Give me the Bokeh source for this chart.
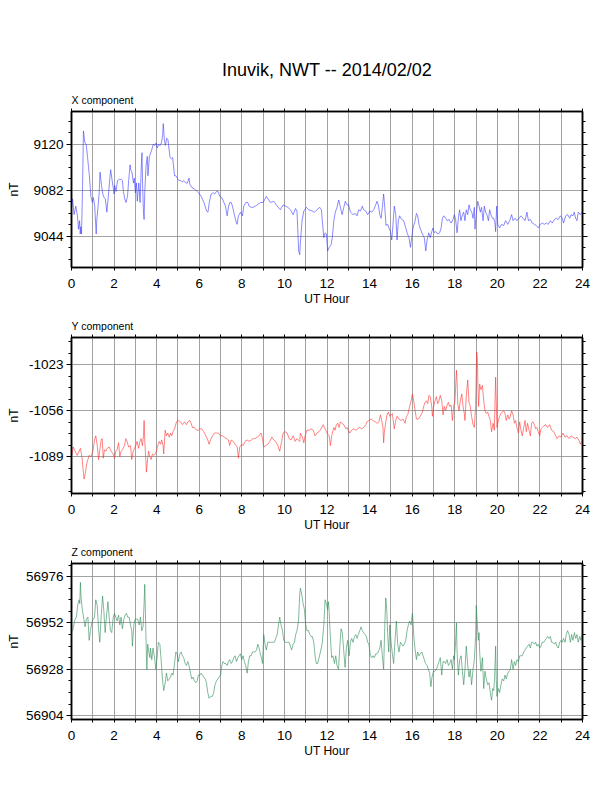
from bokeh.plotting import figure
from bokeh.models import (Range1d, LinearAxis, FixedTicker, Title, CustomJSTickFormatter, Grid,
                          NumeralTickFormatter)
from bokeh.layouts import column
from bokeh.embed import file_html
from bokeh.resources import INLINE

PAGE_TITLE = "Inuvik, NWT -- 2014/02/02"
X_LABEL = "UT Hour"
Y_LABEL = "nT"
HOUR_LABELS = [0, 2, 4, 6, 8, 10, 12, 14, 16, 18, 20, 22, 24]
HOUR_MINOR = [1, 3, 5, 7, 9, 11, 13, 15, 17, 19, 21, 23]
COMPONENTS = ["X component", "Y component", "Z component"]

# ---------------- X component ----------------
X_HOURS = [
    0.00, 0.05, 0.12, 0.20, 0.28, 0.33, 0.38, 0.41, 0.44, 0.47, 0.50, 0.52, 0.56, 0.63, 0.69, 0.75,
    0.80, 0.84, 0.91, 0.98, 1.03, 1.09, 1.16, 1.19, 1.25, 1.30, 1.34, 1.41, 1.47, 1.53, 1.59, 1.66,
    1.72, 1.78, 1.84, 1.91, 1.97, 2.00, 2.03, 2.09, 2.16, 2.25, 2.34, 2.39, 2.44, 2.50, 2.56, 2.63,
    2.69, 2.75, 2.78, 2.84, 2.91, 2.95, 3.00, 3.05, 3.09, 3.16, 3.22, 3.28, 3.31, 3.34, 3.38, 3.41,
    3.44, 3.50, 3.56, 3.59, 3.66, 3.72, 3.78, 3.84, 3.91, 3.97, 4.03, 4.09, 4.16, 4.22, 4.28, 4.31,
    4.36, 4.41, 4.47, 4.53, 4.58, 4.63, 4.69, 4.75, 4.81, 4.84, 4.91, 4.97, 5.05, 5.13, 5.20, 5.28,
    5.38, 5.44, 5.52, 5.56, 5.67, 5.78, 5.91, 5.97, 6.09, 6.22, 6.34, 6.41, 6.47, 6.56, 6.66, 6.72,
    6.81, 6.88, 6.97, 7.06, 7.16, 7.23, 7.31, 7.38, 7.44, 7.50, 7.56, 7.66, 7.75, 7.78, 7.84, 7.94,
    8.03, 8.09, 8.19, 8.28, 8.34, 8.44, 8.53, 8.63, 8.72, 8.88, 9.00, 9.15, 9.34, 9.50, 9.66, 9.81,
    9.94, 10.05, 10.16, 10.28, 10.41, 10.52, 10.59, 10.67, 10.72, 10.75, 10.83, 10.91, 11.03, 11.14,
    11.30, 11.41, 11.53, 11.66, 11.74, 11.78, 11.85, 11.91, 11.97, 12.03, 12.10, 12.19, 12.25, 12.32,
    12.39, 12.47, 12.55, 12.63, 12.71, 12.79, 12.86, 12.94, 13.02, 13.10, 13.22, 13.33, 13.41, 13.49,
    13.57, 13.66, 13.72, 13.82, 13.91, 14.01, 14.10, 14.19, 14.29, 14.35, 14.41, 14.48, 14.54, 14.60,
    14.66, 14.71, 14.77, 14.85, 14.91, 14.98, 15.04, 15.10, 15.16, 15.23, 15.29, 15.35, 15.41, 15.51,
    15.60, 15.70, 15.76, 15.85, 15.92, 15.98, 16.04, 16.14, 16.20, 16.26, 16.32, 16.39, 16.48, 16.57,
    16.64, 16.70, 16.78, 16.85, 16.92, 16.98, 17.04, 17.11, 17.20, 17.29, 17.36, 17.42, 17.48, 17.57,
    17.64, 17.73, 17.83, 17.92, 17.98, 18.04, 18.11, 18.17, 18.23, 18.29, 18.36, 18.42, 18.48, 18.54,
    18.61, 18.67, 18.73, 18.80, 18.86, 18.92, 18.95, 19.01, 19.08, 19.14, 19.20, 19.26, 19.33, 19.39,
    19.45, 19.51, 19.58, 19.64, 19.70, 19.77, 19.83, 19.89, 19.92, 19.97, 20.02, 20.11, 20.20, 20.30,
    20.39, 20.49, 20.58, 20.67, 20.74, 20.83, 20.92, 21.02, 21.11, 21.21, 21.30, 21.39, 21.46, 21.55,
    21.64, 21.74, 21.83, 21.93, 22.02, 22.11, 22.21, 22.30, 22.39, 22.49, 22.58, 22.68, 22.77, 22.86,
    22.96, 23.05, 23.11, 23.21, 23.30, 23.40, 23.46, 23.55, 23.61, 23.68, 23.74, 23.80, 23.90, 23.97,
]
X_NT = [
    9068, 9075, 9062, 9069, 9061, 9050, 9057, 9046, 9052, 9046, 9069, 9086, 9131, 9121, 9120, 9110,
    9101, 9094, 9077, 9072, 9076, 9069, 9046, 9058, 9069, 9080, 9097, 9086, 9079, 9076, 9075, 9064,
    9075, 9088, 9099, 9090, 9083, 9079, 9086, 9081, 9090, 9091, 9091, 9090, 9081, 9075, 9072, 9077,
    9091, 9103, 9099, 9097, 9088, 9092, 9080, 9088, 9073, 9088, 9072, 9103, 9113, 9086, 9064, 9058,
    9080, 9102, 9110, 9094, 9110, 9113, 9116, 9120, 9119, 9121, 9117, 9120, 9119, 9121, 9127, 9137,
    9124, 9119, 9125, 9124, 9116, 9109, 9108, 9109, 9099, 9094, 9094, 9092, 9090, 9090, 9089, 9090,
    9088, 9088, 9092, 9087, 9084, 9083, 9081, 9080, 9077, 9072, 9065, 9064, 9072, 9079, 9080, 9079,
    9081, 9081, 9077, 9076, 9072, 9069, 9061, 9069, 9072, 9072, 9069, 9061, 9055, 9054, 9061, 9064,
    9061, 9069, 9072, 9072, 9069, 9068, 9068, 9069, 9070, 9072, 9072, 9077, 9072, 9073, 9069, 9066,
    9070, 9069, 9068, 9066, 9062, 9067, 9065, 9032, 9029, 9039, 9057, 9065, 9068, 9066,
    9065, 9064, 9066, 9068, 9066, 9057, 9043, 9047, 9046, 9032, 9035, 9037, 9043, 9057,
    9064, 9068, 9074, 9068, 9062, 9068, 9073, 9070, 9070, 9064, 9062, 9063, 9061, 9066,
    9065, 9069, 9066, 9065, 9062, 9065, 9064, 9066, 9070, 9073, 9070, 9062, 9059, 9068,
    9079, 9069, 9053, 9054, 9051, 9048, 9041, 9054, 9069, 9062, 9041, 9057, 9061, 9058,
    9057, 9051, 9047, 9043, 9035, 9043, 9051, 9057, 9063, 9061, 9054, 9050, 9046, 9043,
    9032, 9041, 9047, 9043, 9048, 9051, 9047, 9048, 9046, 9047, 9051, 9059, 9061, 9059,
    9057, 9058, 9055, 9058, 9062, 9058, 9047, 9059, 9066, 9057, 9062, 9064, 9057, 9066,
    9062, 9070, 9066, 9064, 9059, 9068, 9050, 9062, 9073, 9069, 9064, 9068, 9057, 9069,
    9064, 9062, 9057, 9066, 9062, 9059, 9059, 9055, 9048, 9069, 9054, 9051, 9054, 9053,
    9057, 9054, 9057, 9062, 9057, 9059, 9057, 9059, 9061, 9059, 9057, 9064, 9057, 9058,
    9055, 9054, 9053, 9051, 9054, 9055, 9054, 9055, 9054, 9057, 9055, 9058, 9059, 9058,
    9061, 9059, 9055, 9061, 9062, 9059, 9062, 9061, 9064, 9059, 9057, 9064, 9062, 9064,
]
X_TICKS = [9044, 9082, 9120]
X_LIMITS = [9018.4, 9147.0]

# ---------------- Y component ----------------
Y_HOURS = [
    0.00, 0.08, 0.17, 0.27, 0.36, 0.42, 0.49, 0.55, 0.59, 0.66, 0.70, 0.77, 0.83, 0.92, 1.02, 1.08,
    1.14, 1.21, 1.27, 1.33, 1.39, 1.44, 1.49, 1.55, 1.61, 1.67, 1.77, 1.86, 1.96, 2.02, 2.08, 2.14,
    2.21, 2.27, 2.33, 2.39, 2.49, 2.55, 2.61, 2.68, 2.77, 2.83, 2.90, 2.96, 3.02, 3.08, 3.15, 3.21,
    3.27, 3.33, 3.38, 3.41, 3.44, 3.49, 3.52, 3.57, 3.62, 3.68, 3.74, 3.80, 3.87, 3.93, 3.99, 4.05,
    4.12, 4.18, 4.24, 4.30, 4.33, 4.40, 4.46, 4.52, 4.59, 4.65, 4.71, 4.77, 4.84, 4.93, 5.02, 5.12,
    5.21, 5.31, 5.40, 5.46, 5.56, 5.62, 5.68, 5.77, 5.87, 5.96, 6.03, 6.12, 6.21, 6.31, 6.40, 6.46,
    6.53, 6.62, 6.71, 6.81, 6.90, 7.00, 7.09, 7.18, 7.28, 7.37, 7.43, 7.50, 7.59, 7.68, 7.78, 7.84,
    7.90, 8.00, 8.06, 8.15, 8.25, 8.34, 8.44, 8.53, 8.62, 8.72, 8.81, 8.90, 8.97, 9.03, 9.12, 9.22,
    9.31, 9.41, 9.50, 9.59, 9.69, 9.78, 9.87, 9.94, 10.03, 10.13, 10.22, 10.31, 10.41, 10.50, 10.59,
    10.72, 10.75, 10.85, 10.91, 10.97, 11.06, 11.16, 11.25, 11.35, 11.44, 11.53, 11.63, 11.72, 11.82,
    11.88, 11.94, 12.00, 12.10, 12.16, 12.22, 12.32, 12.38, 12.44, 12.50, 12.57, 12.63, 12.69, 12.79,
    12.88, 12.94, 13.00, 13.07, 13.16, 13.26, 13.35, 13.44, 13.54, 13.63, 13.72, 13.82, 13.88, 13.97,
    14.07, 14.16, 14.26, 14.35, 14.44, 14.51, 14.57, 14.63, 14.66, 14.69, 14.76, 14.82, 14.88, 14.95,
    15.01, 15.07, 15.16, 15.23, 15.29, 15.38, 15.48, 15.57, 15.67, 15.73, 15.79, 15.88, 15.95, 16.01,
    16.07, 16.13, 16.20, 16.29, 16.38, 16.48, 16.54, 16.60, 16.67, 16.73, 16.79, 16.85, 16.92, 16.95,
    17.01, 17.07, 17.14, 17.20, 17.26, 17.32, 17.39, 17.45, 17.51, 17.57, 17.64, 17.70, 17.76, 17.83,
    17.89, 17.95, 18.01, 18.08, 18.11, 18.14, 18.20, 18.26, 18.33, 18.39, 18.45, 18.48, 18.54, 18.61,
    18.67, 18.73, 18.79, 18.86, 18.92, 18.98, 19.03, 19.06, 19.09, 19.12, 19.17, 19.23, 19.30, 19.36,
    19.42, 19.48, 19.55, 19.61, 19.67, 19.73, 19.80, 19.86, 19.89, 19.92, 19.95, 19.98, 20.05, 20.11,
    20.17, 20.23, 20.30, 20.36, 20.42, 20.49, 20.55, 20.61, 20.67, 20.74, 20.80, 20.86, 20.92, 20.99,
    21.05, 21.11, 21.17, 21.24, 21.30, 21.36, 21.42, 21.49, 21.55, 21.61, 21.67, 21.74, 21.80, 21.86,
    21.92, 21.99, 22.05, 22.11, 22.18, 22.27, 22.36, 22.46, 22.55, 22.65, 22.74, 22.80, 22.90, 22.99,
    23.08, 23.18, 23.27, 23.37, 23.46, 23.55, 23.65, 23.74, 23.83, 23.90, 23.96,
]
Y_NT = [
    -1089, -1082, -1085, -1088, -1085, -1083, -1089, -1099, -1105, -1100, -1095, -1091, -1088, -1089, -1084, -1077,
    -1074, -1081, -1091, -1084, -1077, -1076, -1090, -1084, -1085, -1083, -1082, -1085, -1087, -1090, -1085, -1084,
    -1079, -1089, -1085, -1084, -1081, -1076, -1078, -1082, -1081, -1091, -1085, -1083, -1081, -1078, -1083, -1078,
    -1076, -1081, -1074, -1063, -1077, -1091, -1100, -1091, -1085, -1089, -1091, -1087, -1088, -1087, -1085, -1081,
    -1078, -1080, -1077, -1081, -1087, -1070, -1074, -1072, -1075, -1072, -1074, -1071, -1069, -1064, -1063, -1064,
    -1066, -1064, -1066, -1064, -1063, -1065, -1068, -1068, -1070, -1070, -1069, -1069, -1071, -1074, -1077, -1080,
    -1077, -1074, -1072, -1072, -1072, -1074, -1074, -1075, -1076, -1077, -1081, -1077, -1078, -1080, -1082, -1090,
    -1082, -1080, -1081, -1078, -1077, -1078, -1077, -1076, -1076, -1075, -1074, -1072, -1076, -1082, -1081, -1080,
    -1078, -1075, -1077, -1078, -1081, -1085, -1078, -1072, -1071, -1072, -1076, -1077, -1074, -1078, -1076,
    -1078, -1072, -1075, -1079, -1074, -1070, -1070, -1069, -1070, -1074, -1072, -1071, -1069, -1066,
    -1068, -1070, -1072, -1074, -1081, -1074, -1068, -1070, -1066, -1065, -1068, -1064, -1065, -1066,
    -1069, -1068, -1070, -1072, -1070, -1069, -1070, -1069, -1068, -1069, -1068, -1066, -1064, -1063,
    -1062, -1063, -1064, -1065, -1064, -1059, -1063, -1068, -1079, -1072, -1064, -1059, -1057, -1060,
    -1059, -1058, -1069, -1063, -1060, -1062, -1063, -1062, -1065, -1060, -1059, -1053, -1049, -1044,
    -1049, -1055, -1062, -1062, -1060, -1057, -1053, -1050, -1049, -1051, -1045, -1046, -1053, -1060,
    -1053, -1049, -1046, -1051, -1049, -1045, -1049, -1059, -1053, -1056, -1052, -1050, -1053, -1052,
    -1063, -1053, -1049, -1027, -1035, -1051, -1056, -1049, -1044, -1053, -1058, -1063, -1046, -1034,
    -1050, -1053, -1060, -1066, -1068, -1053, -1014, -1018, -1039, -1053, -1037, -1041, -1038, -1049,
    -1056, -1058, -1057, -1060, -1063, -1071, -1065, -1070, -1050, -1032, -1049, -1068, -1063, -1060,
    -1058, -1057, -1056, -1058, -1063, -1059, -1062, -1060, -1056, -1059, -1065, -1063, -1068, -1072,
    -1064, -1070, -1074, -1068, -1063, -1071, -1065, -1070, -1074, -1065, -1064, -1066, -1069, -1068,
    -1071, -1074, -1069, -1068, -1067, -1066, -1068, -1066, -1070, -1071, -1074, -1076, -1074, -1075,
    -1072, -1075, -1074, -1076, -1074, -1075, -1076, -1075, -1077, -1080, -1078,
]
Y_TICKS = [-1089, -1056, -1023]
Y_LIMITS = [-1115.3, -1003.6]

# ---------------- Z component ----------------
Z_HOURS = [
    0.00, 0.05, 0.11, 0.17, 0.23, 0.30, 0.36, 0.39, 0.42, 0.45, 0.52, 0.58, 0.64, 0.70, 0.77, 0.83,
    0.89, 0.95, 1.02, 1.08, 1.14, 1.21, 1.27, 1.33, 1.39, 1.46, 1.52, 1.58, 1.64, 1.71, 1.77, 1.83,
    1.89, 1.96, 2.02, 2.08, 2.14, 2.21, 2.27, 2.33, 2.39, 2.46, 2.52, 2.58, 2.64, 2.71, 2.77, 2.83,
    2.86, 2.93, 2.99, 3.05, 3.11, 3.18, 3.24, 3.30, 3.36, 3.41, 3.44, 3.47, 3.51, 3.54, 3.58, 3.63,
    3.68, 3.71, 3.77, 3.83, 3.90, 3.96, 4.02, 4.08, 4.15, 4.21, 4.27, 4.33, 4.40, 4.46, 4.52, 4.59,
    4.65, 4.71, 4.77, 4.84, 4.90, 4.96, 5.02, 5.09, 5.15, 5.21, 5.27, 5.34, 5.40, 5.46, 5.52, 5.59,
    5.65, 5.71, 5.77, 5.84, 5.90, 5.96, 6.03, 6.09, 6.15, 6.21, 6.28, 6.34, 6.40, 6.46, 6.53, 6.62,
    6.68, 6.74, 6.81, 6.87, 6.93, 7.00, 7.06, 7.12, 7.18, 7.25, 7.31, 7.37, 7.43, 7.50, 7.56, 7.62,
    7.68, 7.75, 7.81, 7.87, 7.93, 8.00, 8.06, 8.12, 8.18, 8.25, 8.31, 8.37, 8.44, 8.50, 8.56, 8.62,
    8.69, 8.75, 8.81, 8.87, 8.94, 8.97, 9.03, 9.09, 9.15, 9.22, 9.28, 9.34, 9.41, 9.47, 9.53, 9.59,
    9.66, 9.72, 9.78, 9.84, 9.91, 9.97, 10.03, 10.09, 10.16, 10.22, 10.28, 10.34, 10.41, 10.47, 10.53,
    10.59, 10.66, 10.72, 10.75, 10.81, 10.88, 10.94, 11.00, 11.06, 11.13, 11.19, 11.25, 11.31, 11.38,
    11.44, 11.50, 11.56, 11.63, 11.69, 11.75, 11.78, 11.85, 11.91, 11.97, 12.03, 12.07, 12.10, 12.13,
    12.16, 12.22, 12.28, 12.35, 12.41, 12.47, 12.54, 12.60, 12.66, 12.72, 12.79, 12.85, 12.91, 12.97,
    13.04, 13.10, 13.16, 13.22, 13.29, 13.35, 13.41, 13.47, 13.54, 13.60, 13.66, 13.72, 13.79, 13.85,
    13.91, 13.97, 14.04, 14.10, 14.16, 14.22, 14.29, 14.35, 14.41, 14.48, 14.54, 14.60, 14.66, 14.71,
    14.76, 14.81, 14.85, 14.90, 14.95, 15.01, 15.07, 15.13, 15.19, 15.26, 15.32, 15.38, 15.45, 15.51,
    15.57, 15.63, 15.70, 15.76, 15.82, 15.88, 15.95, 16.01, 16.04, 16.07, 16.13, 16.20, 16.26, 16.32,
    16.38, 16.45, 16.51, 16.57, 16.63, 16.70, 16.76, 16.82, 16.88, 16.92, 16.95, 17.01, 17.07, 17.14,
    17.20, 17.26, 17.32, 17.39, 17.45, 17.51, 17.57, 17.64, 17.70, 17.76, 17.83, 17.89, 17.95, 17.98,
    18.04, 18.08, 18.11, 18.17, 18.23, 18.30, 18.36, 18.42, 18.48, 18.54, 18.61, 18.67, 18.73, 18.79,
    18.86, 18.92, 18.98, 19.01, 19.06, 19.11, 19.14, 19.17, 19.23, 19.30, 19.36, 19.42, 19.48, 19.55,
    19.61, 19.67, 19.73, 19.78, 19.83, 19.87, 19.92, 19.95, 19.98, 20.05, 20.11, 20.17, 20.23, 20.30,
    20.36, 20.42, 20.49, 20.55, 20.61, 20.67, 20.74, 20.80, 20.86, 20.92, 20.99, 21.05, 21.11, 21.17,
    21.24, 21.30, 21.36, 21.42, 21.49, 21.55, 21.61, 21.67, 21.74, 21.80, 21.86, 21.92, 21.99, 22.05,
    22.11, 22.18, 22.24, 22.30, 22.36, 22.43, 22.49, 22.55, 22.61, 22.68, 22.74, 22.80, 22.86, 22.93,
    22.99, 23.05, 23.11, 23.18, 23.24, 23.30, 23.37, 23.43, 23.49, 23.55, 23.62, 23.68, 23.74, 23.80,
    23.87, 23.93, 23.97,
]
Z_NT = [
    56948, 56948, 56951, 56954, 56955, 56962, 56964, 56962, 56973, 56965, 56958, 56954, 56950, 56954, 56955, 56943,
    56948, 56952, 56954, 56955, 56964, 56961, 56949, 56942, 56955, 56966, 56958, 56947, 56955, 56963, 56955, 56948,
    56947, 56955, 56957, 56955, 56953, 56956, 56951, 56955, 56949, 56954, 56956, 56957, 56955, 56955, 56951, 56948,
    56940, 56951, 56954, 56954, 56954, 56951, 56955, 56948, 56950, 56962, 56972, 56958, 56939, 56928, 56941, 56937,
    56934, 56939, 56933, 56939, 56934, 56928, 56934, 56942, 56941, 56933, 56923, 56917, 56921, 56926, 56922, 56923,
    56924, 56926, 56925, 56931, 56937, 56936, 56932, 56936, 56937, 56935, 56934, 56931, 56930, 56932, 56930, 56926,
    56923, 56924, 56922, 56921, 56922, 56925, 56925, 56926, 56925, 56924, 56923, 56921, 56916, 56913, 56914, 56914,
    56916, 56920, 56922, 56923, 56924, 56925, 56930, 56932, 56931, 56931, 56930, 56932, 56933, 56931, 56932, 56934,
    56935, 56932, 56934, 56935, 56936, 56933, 56935, 56932, 56930, 56926, 56932, 56935, 56935, 56937, 56937, 56937,
    56938, 56941, 56939, 56936, 56933, 56931, 56946, 56941, 56938, 56942, 56942, 56942, 56942, 56942, 56942, 56944,
    56946, 56951, 56955, 56951, 56948, 56943, 56942, 56942, 56942, 56942, 56940, 56938, 56941, 56942, 56946,
    56948, 56953, 56967, 56970, 56967, 56962, 56959, 56951, 56948, 56948, 56946, 56945, 56945, 56942,
    56935, 56931, 56931, 56934, 56937, 56940, 56942, 56951, 56964, 56962, 56959, 56963, 56958, 56951,
    56944, 56934, 56935, 56931, 56935, 56930, 56928, 56939, 56949, 56947, 56937, 56929, 56939, 56943,
    56935, 56942, 56944, 56942, 56945, 56946, 56944, 56946, 56948, 56950, 56948, 56947, 56946, 56945,
    56942, 56941, 56935, 56934, 56935, 56934, 56936, 56936, 56937, 56939, 56943, 56935, 56928, 56949,
    56965, 56958, 56946, 56937, 56951, 56942, 56936, 56931, 56942, 56953, 56941, 56937, 56942, 56941,
    56940, 56941, 56943, 56948, 56951, 56953, 56951, 56957, 56953, 56946, 56939, 56933, 56937, 56935,
    56936, 56937, 56935, 56933, 56931, 56930, 56928, 56926, 56919, 56923, 56925, 56927, 56927, 56928,
    56930, 56932, 56934, 56925, 56932, 56932, 56931, 56933, 56930, 56931, 56933, 56928, 56935, 56933,
    56942, 56952, 56937, 56925, 56933, 56935, 56927, 56920, 56928, 56940, 56930, 56924, 56928, 56920,
    56928, 56933, 56945, 56961, 56951, 56943, 56947, 56937, 56927, 56934, 56918, 56927, 56923, 56920,
    56921, 56916, 56912, 56918, 56917, 56923, 56940, 56923, 56914, 56918, 56916, 56920, 56923, 56922,
    56925, 56923, 56926, 56927, 56928, 56933, 56928, 56932, 56930, 56933, 56932, 56935, 56935, 56935,
    56937, 56938, 56939, 56940, 56941, 56939, 56942, 56942, 56941, 56942, 56940, 56941, 56939, 56940,
    56942, 56942, 56943, 56944, 56945, 56944, 56945, 56942, 56942, 56941, 56942, 56940, 56939, 56942,
    56943, 56942, 56944, 56942, 56946, 56948, 56946, 56942, 56946, 56943, 56947, 56944, 56946, 56942,
    56945, 56943, 56946,
]
Z_TICKS = [56904, 56928, 56952, 56976]
Z_LIMITS = [56902.0, 56982.8]

COLORS = ["#3c3cff", "#ff3030", "#2e8b57"]
FONT = "Liberation Sans"
GRID = "#8a8a8a"


def quarter_ticks(major, lo, hi):
    step = (major[1] - major[0]) / 4.0
    v = major[0]
    while v - step >= lo:
        v -= step
    out = []
    while v <= hi:
        if all(abs(v - m) > 1e-6 for m in major):
            out.append(round(v, 3))
        v += step
    return out


def style(ax, is_x, labels=True):
    ax.axis_line_color = "black"
    ax.axis_line_width = 1.5
    ax.major_tick_line_color = "black"
    ax.minor_tick_line_color = "black"
    ax.major_tick_line_width = 1
    ax.minor_tick_line_width = 1
    ax.major_tick_in = 0
    ax.minor_tick_in = 0
    if is_x:
        ax.major_tick_out = 3
        ax.minor_tick_out = 3
    else:
        ax.major_tick_out = 5
        ax.minor_tick_out = 3
    ax.major_label_text_font = FONT
    ax.major_label_text_font_size = "13.5px"
    ax.major_label_text_color = "black"
    ax.axis_label_text_font = FONT
    ax.axis_label_text_font_size = "12px"
    ax.axis_label_text_font_style = "normal"
    ax.axis_label_text_color = "black"
    if not labels:
        ax.formatter = CustomJSTickFormatter(code="return ''")
        ax.major_label_standoff = 0


def make_panel(idx, hours, vals, ticks, limits, top, ylab_standoff, head=None):
    p = figure(width=604, height=top + 156 + 44, title=None,
               x_range=Range1d(0, 24), y_range=Range1d(*limits),
               output_backend="svg", toolbar_location=None,
               x_axis_type=None, y_axis_type=None,
               min_border_left=71, min_border_right=22,
               min_border_top=top, min_border_bottom=44)
    p.background_fill_color = "white"
    p.border_fill_color = "white"
    p.outline_line_color = "black"
    p.outline_line_width = 1.5

    xt = FixedTicker(ticks=HOUR_LABELS, minor_ticks=HOUR_MINOR)
    yt = FixedTicker(ticks=ticks, minor_ticks=quarter_ticks(ticks, limits[0], limits[1]))

    p.add_layout(Grid(dimension=0, ticker=xt, grid_line_color=GRID, grid_line_width=0.8,
                      minor_grid_line_color=GRID, minor_grid_line_width=0.8))
    p.add_layout(Grid(dimension=1, ticker=yt, grid_line_color=GRID, grid_line_width=0.8))

    xb = LinearAxis(ticker=xt, axis_label=X_LABEL)
    style(xb, True)
    xb.major_label_standoff = 8
    xb.axis_label_standoff = 1
    p.add_layout(xb, "below")

    yl = LinearAxis(ticker=yt, axis_label=Y_LABEL, formatter=NumeralTickFormatter(format="0"))
    style(yl, False)
    yl.major_label_standoff = 3
    yl.axis_label_standoff = ylab_standoff
    p.add_layout(yl, "left")

    yr = LinearAxis(ticker=yt)
    style(yr, False, labels=False)
    p.add_layout(yr, "right")

    xa = LinearAxis(ticker=xt)
    style(xa, True, labels=False)
    p.add_layout(xa, "above")

    p.line(hours, vals, line_color=COLORS[idx], line_width=0.6)

    p.add_layout(Title(text=COMPONENTS[idx], align="left", text_font=FONT,
                       text_font_size="10.5px", text_font_style="normal",
                       text_color="black", standoff=5), "above")
    if head is not None:
        p.add_layout(Title(text=head, align="center", text_font=FONT,
                           text_font_size="18px", text_font_style="normal",
                           text_color="black", standoff=20), "above")
    return p


p1 = make_panel(0, X_HOURS, X_NT, X_TICKS, X_LIMITS, 111, 9, head=PAGE_TITLE)
p2 = make_panel(1, Y_HOURS, Y_NT, Y_TICKS, Y_LIMITS, 26, 5)
p3 = make_panel(2, Z_HOURS, Z_NT, Z_TICKS, Z_LIMITS, 26, 2)

layout = column(p1, p2, p3, spacing=0)
open("out.html", "w").write(file_html(layout, INLINE, title="Inuvik, NWT -- 2014/02/02"))
